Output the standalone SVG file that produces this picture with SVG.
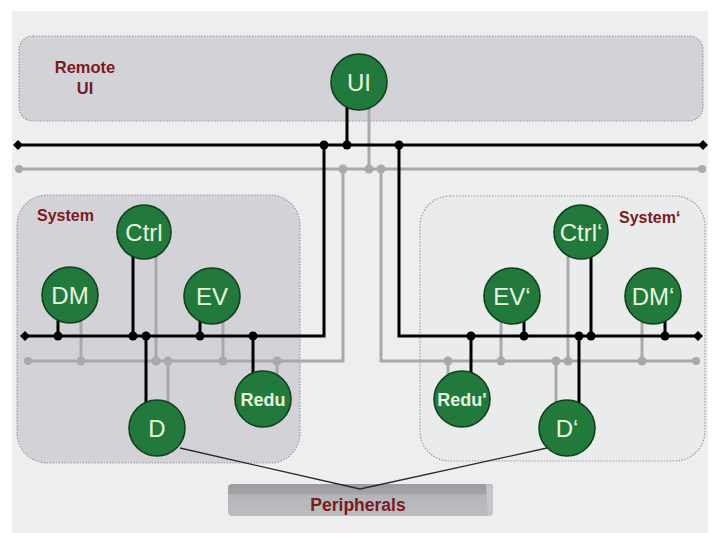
<svg xmlns="http://www.w3.org/2000/svg" width="715" height="533" viewBox="0 0 715 533">
<defs>
<style>
.box{fill:#d3d2d7;stroke:#9a9a9e;stroke-width:1.2;stroke-dasharray:1.5 1.5}
.box2{fill:#eaeceb;stroke:#9a9a9e;stroke-width:1.2;stroke-dasharray:1.5 1.5}
.lbl{font-family:"Liberation Sans",Arial,sans-serif;font-weight:bold;fill:#7b1a22}
.bk{stroke:#000;stroke-width:3;fill:none}
.gr{stroke:#a9a9ab;stroke-width:3;fill:none}
.dk{fill:#000}
.dg{fill:#a9a9ab}
.nd{fill:#217a3c;stroke:#10401d;stroke-width:1.6}
.nt{font-family:"Liberation Sans",Arial,sans-serif;font-size:24px;fill:#e8f5de;text-anchor:middle}
.nb{font-family:"Liberation Sans",Arial,sans-serif;font-size:18px;font-weight:bold;fill:#e8f5de;text-anchor:middle}
.pl{stroke:#2a2a2a;stroke-width:1.3;fill:none}
</style>
<linearGradient id="pg" x1="0" y1="0" x2="0" y2="1">
<stop offset="0" stop-color="#9c9da1"/>
<stop offset="0.3" stop-color="#a3a4a8"/>
<stop offset="0.35" stop-color="#b4b5b9"/>
<stop offset="1" stop-color="#bdbec2"/>
</linearGradient>
</defs>
<rect x="0" y="0" width="715" height="533" fill="#ffffff"/>
<rect x="12" y="11" width="696" height="522" fill="#edefef"/>

<g id="remote-ui-area">
<rect class="box" x="19" y="36" width="684" height="85" rx="14"/>
<text class="lbl" font-size="16.5" x="85" y="73" text-anchor="middle">Remote</text>
<text class="lbl" font-size="16.5" x="85" y="94" text-anchor="middle">UI</text>
</g>
<g id="system-area">
<rect class="box" x="17" y="195" width="283" height="268" rx="30"/>
<text class="lbl" font-size="16" x="37" y="221">System</text>
</g>
<g id="system2-area">
<rect class="box2" x="420" y="196" width="285" height="265" rx="30"/>
<text class="lbl" font-size="16" x="619" y="223">System‘</text>
</g>

<g id="peripherals">
<rect x="228" y="484" width="265" height="32" rx="4" fill="url(#pg)"/>
<path d="M486 484 Q493 484 493 490 L493 512 Q493 516 488 516 Z" fill="#c6c7ca"/>
<text class="lbl" font-size="17.5" x="358" y="511" text-anchor="middle">Peripherals</text>
</g>

<g id="connectors">
<path class="gr" d="M19 169 H702"/>
<path class="gr" d="M343 169 V361 H28"/>
<path class="gr" d="M381 169 V361 H696"/>
<path class="gr" d="M369 100 V169"/>
<path class="gr" d="M81 310 V361 M156 250 V361 M168 361 V405 M223 310 V361 M277 361 V380"/>
<path class="gr" d="M448 361 V380 M501 310 V361 M556 361 V410 M568 250 V361 M642 310 V361"/>
<g class="dg">
<circle cx="19" cy="169" r="4"/><circle cx="702" cy="169" r="4"/>
<circle cx="343" cy="169" r="4.5"/><circle cx="369" cy="169" r="4.5"/><circle cx="381" cy="169" r="4.5"/>
<circle cx="28" cy="361" r="4"/><circle cx="696" cy="361" r="4"/>
<circle cx="81" cy="361" r="4.5"/><circle cx="156" cy="361" r="4.5"/><circle cx="168" cy="361" r="4.5"/><circle cx="223" cy="361" r="4.5"/><circle cx="277" cy="361" r="4.5"/>
<circle cx="448" cy="361" r="4.5"/><circle cx="501" cy="361" r="4.5"/><circle cx="556" cy="361" r="4.5"/><circle cx="568" cy="361" r="4.5"/><circle cx="642" cy="361" r="4.5"/>
</g>
<path class="bk" d="M18 145 H703"/>
<path class="bk" d="M324 145 V336 H25"/>
<path class="bk" d="M399 145 V336 H698"/>
<path class="bk" d="M347 100 V145"/>
<path class="bk" d="M58 315 V336 M133 255 V336 M146 336 V405 M200 315 V336 M253 336 V375"/>
<path class="bk" d="M471 336 V375 M524 315 V336 M579 336 V405 M591 255 V336 M665 315 V336"/>
<g class="dk">
<path d="M13 145 L18 140 L23 145 L18 150 Z"/><path d="M698 145 L703 140 L708 145 L703 150 Z"/>
<path d="M20 336 L25 331 L30 336 L25 341 Z"/><path d="M693 336 L698 331 L703 336 L698 341 Z"/>
<circle cx="324" cy="145" r="4.5"/><circle cx="347" cy="145" r="4.5"/><circle cx="399" cy="145" r="4.5"/>
<circle cx="58" cy="336" r="4.5"/><circle cx="133" cy="336" r="4.5"/><circle cx="146" cy="336" r="4.5"/><circle cx="200" cy="336" r="4.5"/><circle cx="253" cy="336" r="4.5"/>
<circle cx="471" cy="336" r="4.5"/><circle cx="524" cy="336" r="4.5"/><circle cx="579" cy="336" r="4.5"/><circle cx="591" cy="336" r="4.5"/><circle cx="665" cy="336" r="4.5"/>
</g>
<path class="pl" d="M180 448 L360 489"/>
<path class="pl" d="M547 448 L360 489"/>
</g>

<g id="UI"><circle class="nd" cx="359" cy="82" r="28"/><text class="nt" x="359" y="90.5">UI</text></g>
<g id="Ctrl"><circle class="nd" cx="144" cy="232" r="27"/><text class="nt" x="144" y="240.5">Ctrl</text></g>
<g id="DM"><circle class="nd" cx="70" cy="295" r="28"/><text class="nt" x="70" y="303.5">DM</text></g>
<g id="EV"><circle class="nd" cx="212" cy="296" r="28"/><text class="nt" x="212" y="304.5">EV</text></g>
<g id="Redu"><circle class="nd" cx="263" cy="399" r="28"/><text class="nb" x="263" y="405.5">Redu</text></g>
<g id="D"><circle class="nd" cx="157" cy="428" r="28"/><text class="nt" x="157" y="436.5">D</text></g>

<g id="Ctrl2"><circle class="nd" cx="581" cy="232" r="27"/><text class="nt" x="581" y="240.5">Ctrl‘</text></g>
<g id="EV2"><circle class="nd" cx="512" cy="296" r="28"/><text class="nt" x="512" y="304.5">EV‘</text></g>
<g id="DM2"><circle class="nd" cx="653" cy="296" r="28"/><text class="nt" x="653" y="304.5">DM‘</text></g>
<g id="Redu2"><circle class="nd" cx="462" cy="399" r="28"/><text class="nb" x="462" y="405.5">Redu'</text></g>
<g id="D2"><circle class="nd" cx="567" cy="428" r="28"/><text class="nt" x="567" y="436.5">D‘</text></g>
</svg>
